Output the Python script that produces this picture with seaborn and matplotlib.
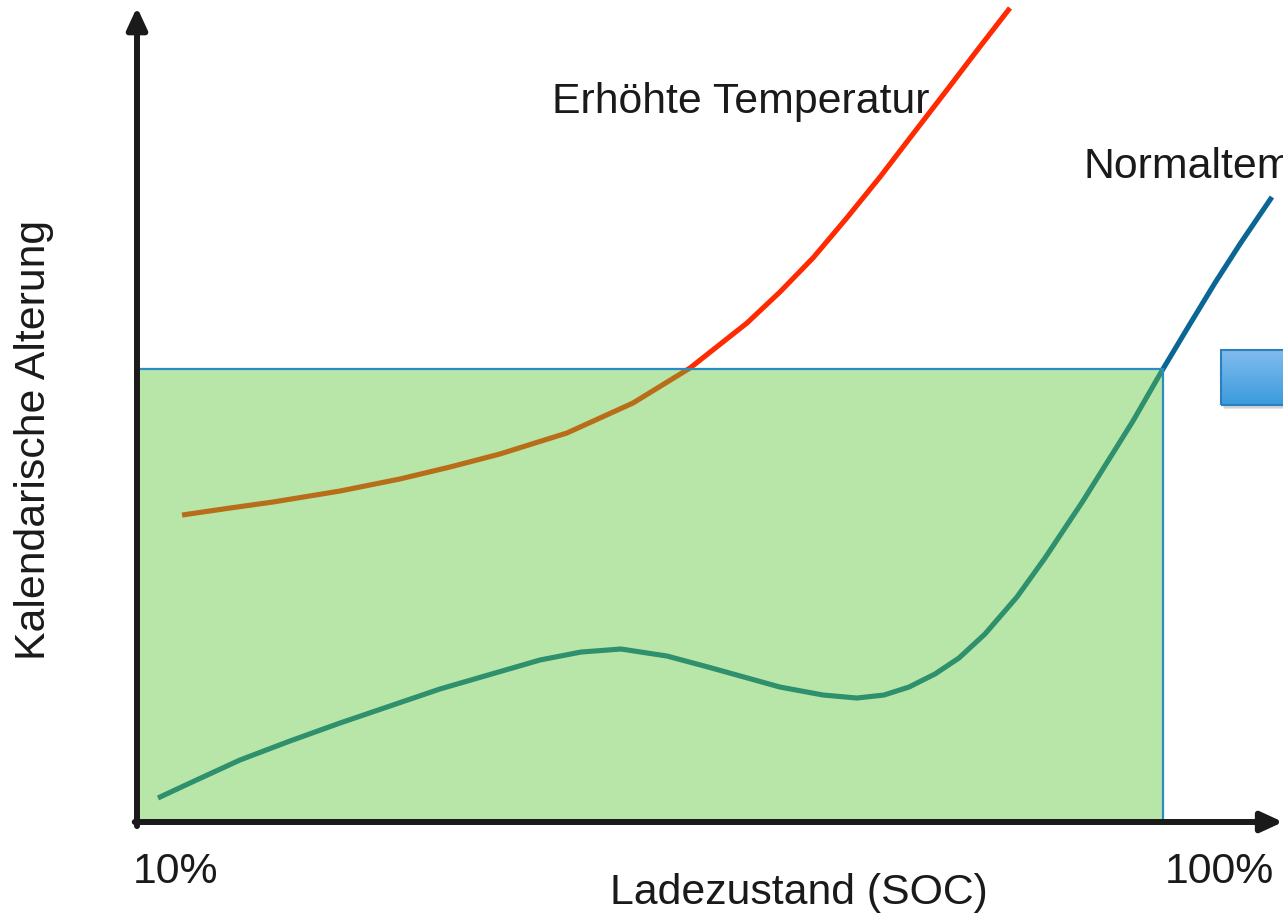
import numpy as np
import pandas as pd
import matplotlib
matplotlib.use("Agg")
import matplotlib.pyplot as plt
import seaborn as sns
from matplotlib.patches import Rectangle
from matplotlib.colors import LinearSegmentedColormap

# ---- data (SOC in %, calendar ageing in arbitrary units) ----
normal_soc = [11.84, 14.65, 19.04, 23.42, 27.81, 36.58, 45.35, 48.95, 52.46, 56.49,
              60.09, 66.40, 70.18, 73.16, 75.53, 77.72, 80.00, 82.11, 84.39, 87.19,
              89.65, 92.98, 97.37, 100.0, 102.37, 104.56, 106.76, 109.56]
normal_age = [2.95, 4.79, 7.62, 9.95, 12.16, 16.34, 19.90, 20.88, 21.25, 20.39,
              19.04, 16.58, 15.60, 15.23, 15.60, 16.58, 18.18, 20.15, 23.10, 27.64,
              32.43, 39.43, 49.26, 55.65, 61.18, 66.22, 71.01, 76.78]

high_soc = [13.95, 18.16, 21.93, 27.81, 33.07, 37.46, 41.84, 47.72, 53.51, 58.51,
            63.51, 66.40, 69.30, 72.19, 75.18, 78.07, 81.05, 83.86, 86.58]
high_age = [37.71, 38.57, 39.31, 40.66, 42.14, 43.61, 45.21, 47.79, 51.47, 55.77,
            61.30, 65.11, 69.29, 74.08, 79.24, 84.52, 89.93, 95.09, 100.0]

zone_soc = [10.0, 100.0]      # recommended SOC window
zone_age = [0.0, 55.65]

box_soc = [105.09, 116.0]     # cut-off blue box at the right
box_age = [51.23, 57.99]

label_high = "Erhöhte Temperatur"
label_normal = "Normaltemperatur"
xlabel = "Ladezustand (SOC)"
ylabel = "Kalendarische Alterung"
tick_min = "10%"
tick_max = "100%"

# ---- figure ----
sns.set_theme(style="white")
plt.rcParams["font.family"] = ["Liberation Sans", "DejaVu Sans"]

fig = plt.figure(figsize=(12.83, 9.17), dpi=100)
ax = fig.add_axes([0, 0, 1, 1])
XLIM = (-2.018, 110.53)
YLIM = (-11.67, 100.98)
ax.axis("off")

df_n = pd.DataFrame({"soc": normal_soc, "age": normal_age})
df_h = pd.DataFrame({"soc": high_soc, "age": high_age})
line_kw = dict(sort=False, estimator=None, ax=ax, lw=3.7, zorder=2,
               solid_joinstyle="round", solid_capstyle="butt")
sns.lineplot(data=df_h, x="soc", y="age", color="#FF2A00", **line_kw)
sns.lineplot(data=df_n, x="soc", y="age", color="#0A6694", **line_kw)

# semi-transparent green window
ax.add_patch(Rectangle((zone_soc[0], zone_age[0]), zone_soc[1] - zone_soc[0],
                       zone_age[1] - zone_age[0], facecolor=(94/255, 198/255, 57/255),
                       alpha=0.44, edgecolor="none", zorder=3))
ax.add_patch(Rectangle((zone_soc[0], zone_age[0]), zone_soc[1] - zone_soc[0],
                       zone_age[1] - zone_age[0], facecolor="none",
                       edgecolor="#2A8CC4", lw=1.6, zorder=4))

# blue box with gradient and soft shadow
for k, a in enumerate([0.06, 0.08, 0.10]):
    off = 0.15 * (k + 1)
    ax.add_patch(Rectangle((box_soc[0] + off * 0.6, box_age[0] - off * 1.2),
                           box_soc[1] - box_soc[0], box_age[1] - box_age[0],
                           facecolor="#000000", alpha=a, edgecolor="none", zorder=3))
grad = np.linspace(0, 1, 100).reshape(-1, 1)
cmap = LinearSegmentedColormap.from_list("bx", ["#82BCEF", "#3B9BDC"])
ax.imshow(grad, extent=(box_soc[0], box_soc[1], box_age[0], box_age[1]), origin="upper",
          cmap=cmap, aspect="auto", zorder=4)
ax.add_patch(Rectangle((box_soc[0], box_age[0]), box_soc[1] - box_soc[0],
                       box_age[1] - box_age[0], facecolor="none",
                       edgecolor="#2C7FBD", lw=1.5, zorder=5))
ax.set_xlim(*XLIM)
ax.set_ylim(*YLIM)

# axes with arrows
arrow_kw = dict(arrowstyle="-|>,head_length=0.65,head_width=0.3", color="#1A1A1A",
                lw=4.3, shrinkA=0, shrinkB=0, mutation_scale=20)
ax.annotate("", xy=(zone_soc[0], 100.1), xytext=(zone_soc[0], -0.5),
            arrowprops=arrow_kw, zorder=6)
ax.annotate("", xy=(XLIM[1], 0.0), xytext=(zone_soc[0] - 0.2, 0.0),
            arrowprops=arrow_kw, zorder=6)

fs = 30.8
tc = "#1A1A1A"
ax.text(46.40, 87.1, label_high, fontsize=fs, ha="left", va="baseline", color=tc)
ax.text(93.0, 79.12, label_normal, fontsize=fs, ha="left", va="baseline", color=tc)
ax.text(68.07, -10.07, xlabel, fontsize=fs, ha="center", va="baseline", color=tc)
ax.text(9.65, -7.49, tick_min, fontsize=fs, ha="left", va="baseline", color=tc)
ax.text(100.18, -7.49, tick_max, fontsize=fs, ha="left", va="baseline", color=tc)
ax.text(0.965, 46.93, ylabel, fontsize=fs, ha="center", va="center", rotation=90,
        color=tc)

fig.savefig("out.png", dpi=100)
